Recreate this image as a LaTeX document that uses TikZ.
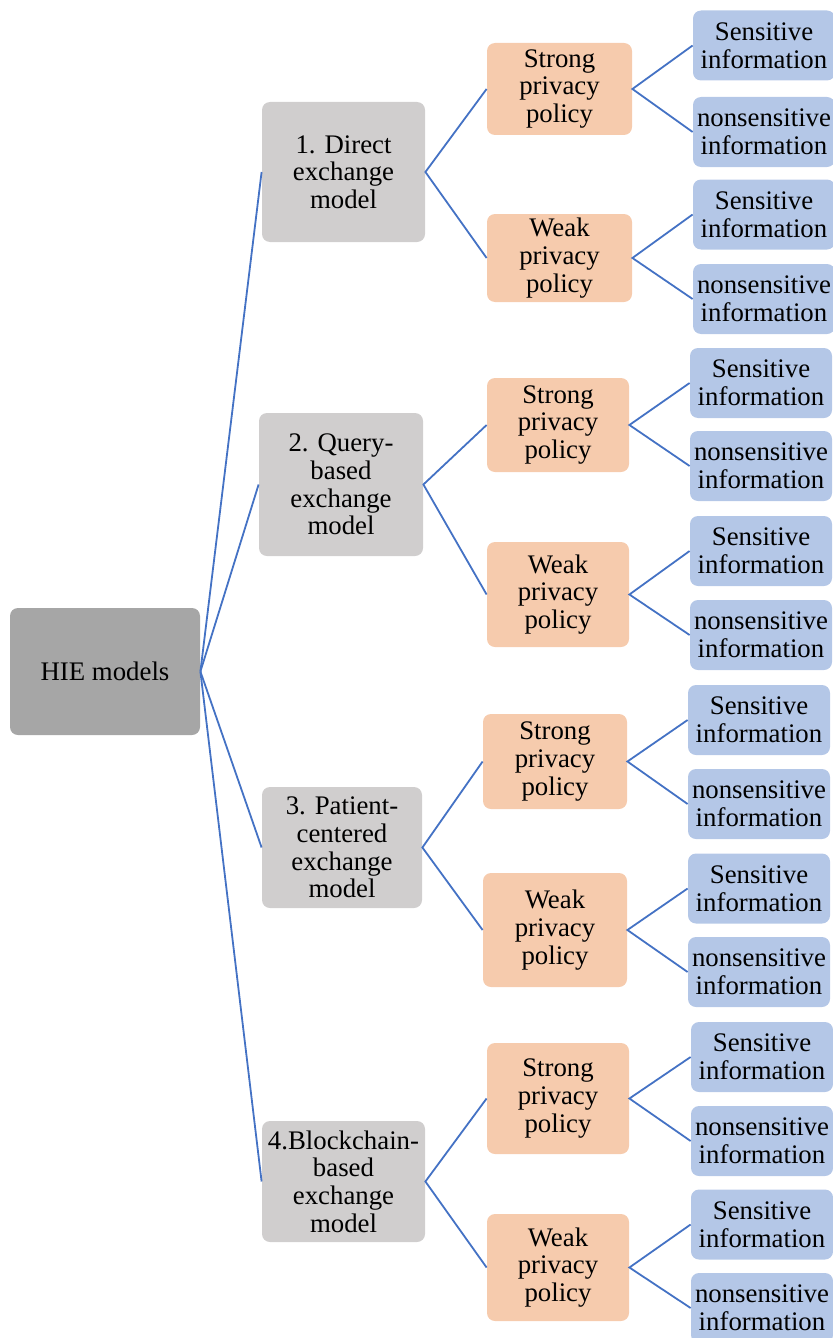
\documentclass[tikz,border=0pt]{standalone}
\usepackage{fontspec}
\setmainfont{Liberation Serif}
\usepackage{xcolor}
\usepackage{tikz}
\usetikzlibrary{positioning}

\definecolor{rootgray}{HTML}{A6A6A6}
\definecolor{modelgray}{HTML}{D0CECE}
\definecolor{policyorange}{HTML}{F6CBAD}
\definecolor{infoblue}{HTML}{B4C7E7}
\definecolor{linkblue}{HTML}{4472C4}

\tikzset{
	box/.style={rounded corners=4pt, inner sep=0pt, align=center,
		font=\fontsize{13.4}{13.8}\selectfont},
	rootbox/.style={box, fill=rootgray, minimum width=95pt, minimum height=63.5pt},
	modelbox/.style={box, fill=modelgray, minimum width=81.5pt},
	policybox/.style={box, fill=policyorange, minimum width=72pt},
	infobox/.style={box, fill=infoblue, minimum width=71pt, minimum height=35pt},
	link/.style={draw=linkblue, line width=0.9pt}
}

\begin{document}
\begin{tikzpicture}[x=0.5pt, y=-0.5pt]
		\useasboundingbox (0,0) rectangle (833,1338);

		% root
		\node[rootbox] (hie) at (105,671.5) {HIE models};

		% exchange models
		\node[modelbox, minimum height=70pt] (m1) at (343.5,172) {1. Direct\\exchange\\model};
		\node[modelbox, minimum width=82pt, minimum height=71.5pt] (m2) at (341,484.5) {2. Query-\\based\\exchange\\model};
		\node[modelbox, minimum width=80pt, minimum height=60.5pt] (m3) at (342,847.5) {3. Patient-\\centered\\exchange\\model};
		\node[modelbox, minimum height=60.5pt] (m4) at (343.5,1181.5) {4.Blockchain-\\based\\exchange\\model};

		% privacy policies
		\node[policybox, minimum width=72.5pt, minimum height=46pt] (s1) at (559.5,89) {Strong\\privacy\\policy};
		\node[policybox, minimum width=72.5pt, minimum height=44pt] (w1) at (559.5,258) {Weak\\privacy\\policy};
		\node[policybox, minimum width=71pt, minimum height=47pt] (s2) at (558,425) {Strong\\privacy\\policy};
		\node[policybox, minimum width=71pt, minimum height=52.5pt] (w2) at (558,594.5) {Weak\\privacy\\policy};
		\node[policybox, minimum height=47.5pt] (s3) at (555,761.5) {Strong\\privacy\\policy};
		\node[policybox, minimum height=57pt] (w3) at (555,930) {Weak\\privacy\\policy};
		\node[policybox, minimum width=71pt, minimum height=55.5pt] (s4) at (558,1098.5) {Strong\\privacy\\policy};
		\node[policybox, minimum width=71pt, minimum height=53.5pt] (w4) at (558,1267.5) {Weak\\privacy\\policy};

		% information
		\node[infobox] (s1a) at (764,45.5) {Sensitive\\information};
		\node[infobox] (s1b) at (764,132) {nonsensitive\\information};
		\node[infobox] (w1a) at (764,214.5) {Sensitive\\information};
		\node[infobox] (w1b) at (764,299) {nonsensitive\\information};
		\node[infobox] (s2a) at (761,383) {Sensitive\\information};
		\node[infobox] (s2b) at (761,466) {nonsensitive\\information};
		\node[infobox] (w2a) at (761,551) {Sensitive\\information};
		\node[infobox] (w2b) at (761,635) {nonsensitive\\information};
		\node[infobox] (s3a) at (759,720) {Sensitive\\information};
		\node[infobox] (s3b) at (759,804) {nonsensitive\\information};
		\node[infobox] (w3a) at (759,888.5) {Sensitive\\information};
		\node[infobox] (w3b) at (759,972) {nonsensitive\\information};
		\node[infobox] (s4a) at (762,1057) {Sensitive\\information};
		\node[infobox] (s4b) at (762,1141) {nonsensitive\\information};
		\node[infobox] (w4a) at (762,1224.5) {Sensitive\\information};
		\node[infobox] (w4b) at (762,1308) {nonsensitive\\information};

		% links
		\foreach \m in {m1,m2,m3,m4}
			\draw[link] (hie.east) -- (\m.west);
		\foreach \i in {1,2,3,4} {
			\draw[link] (s\i.west) -- (m\i.east) -- (w\i.west);
			\draw[link] (s\i a.west) -- (s\i.east) -- (s\i b.west);
			\draw[link] (w\i a.west) -- (w\i.east) -- (w\i b.west);
		}
	\end{tikzpicture}
\end{document}
